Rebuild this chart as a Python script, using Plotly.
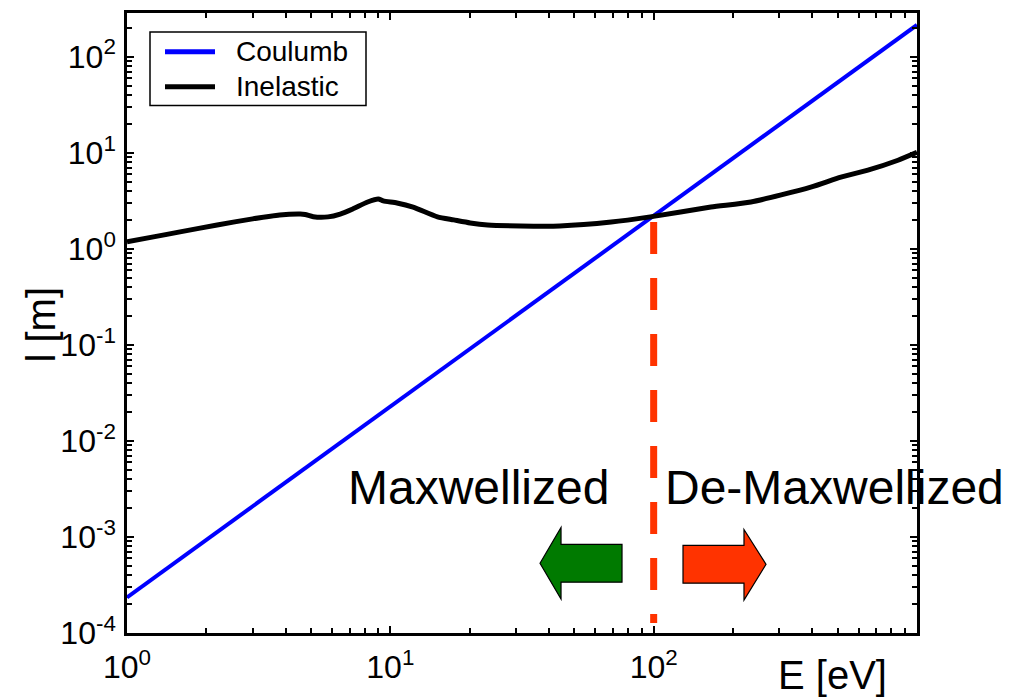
import plotly.graph_objects as go

# ---- data ----
coulomb_E = [1, 10, 100, 1000]
coulomb_I = [2.35e-4, 2.3e-2, 2.2, 214]

inel_E = [1.0, 1.26, 1.59, 2.2, 3.0, 3.8, 4.55, 4.75, 5.1, 5.8, 6.45, 7.2, 8.2, 9.0,
          9.4, 10.6, 12.2, 15.1, 17.4, 20.1, 23.4, 31.2, 44, 69, 97, 165, 234, 395,
          514, 651, 847, 1000]
inel_I = [1.18, 1.33, 1.5, 1.77, 2.05, 2.25, 2.3, 2.28, 2.16, 2.15, 2.3, 2.6, 3.07, 3.3,
          3.15, 3.0, 2.72, 2.15, 2.0, 1.86, 1.77, 1.73, 1.73, 1.9, 2.15, 2.72, 3.07, 4.38,
          5.57, 6.59, 8.36, 10.1]

threshold_E = [100, 100]
threshold_I = [1.9, 1.27e-4]

series_names = ["Coulumb", "Inelastic"]
series_colors = ["#0000FF", "#000000"]

x_tickvals = [1, 10, 100, 1000]
x_ticktext = ["10<sup>0</sup>", "10<sup>1</sup>", "10<sup>2</sup>", " "]
y_tickvals = [1e-4, 1e-3, 1e-2, 1e-1, 1, 10, 100]
y_ticktext = ["10<sup>-4</sup>", "10<sup>-3</sup>", "10<sup>-2</sup>", "10<sup>-1</sup>",
              "10<sup>0</sup>", "10<sup>1</sup>", "10<sup>2</sup>"]

x_minor = [m * 10 ** k for k in range(0, 3) for m in range(2, 10)]
y_minor = [m * 10.0 ** k for k in range(-4, 3) for m in range(2, 10)]

FONT = "Liberation Sans, Arial, Helvetica, sans-serif"

# page body has an 8px margin: work in window pixels, convert to figure pixels
OFF = 8
PL, PR, PT, PB = 127, 917, 10, 633   # plot area in window pixels
W, H = 1023 - OFF, 697 - OFF

fig = go.Figure()
fig.add_trace(go.Scatter(x=coulomb_E, y=coulomb_I, mode="lines", name=series_names[0],
                         showlegend=False,
                         line=dict(color=series_colors[0], width=4)))
fig.add_trace(go.Scatter(x=inel_E, y=inel_I, mode="lines", name=series_names[1],
                         showlegend=False,
                         line=dict(color=series_colors[1], width=5, shape="spline",
                                   smoothing=0.6)))
fig.add_trace(go.Scatter(x=threshold_E, y=threshold_I, mode="lines", showlegend=False,
                         line=dict(color="#FF3300", width=7, dash="32px,24px")))

axis_common = dict(
    showgrid=False, zeroline=False,
    showline=True, linecolor="black", linewidth=2.5, mirror="allticks",
    ticks="inside", ticklen=7, tickwidth=1.5, tickcolor="black",
    tickfont=dict(family=FONT, size=32, color="black"),
    tickmode="array",
)

fig.update_xaxes(type="log", range=[0, 3], tickvals=x_tickvals, ticktext=x_ticktext,
                 ticklabelstandoff=4,
                 minor=dict(tickvals=x_minor, ticks="inside", ticklen=5,
                            tickwidth=1.5, tickcolor="black", showgrid=False),
                 **axis_common)
fig.update_yaxes(type="log", range=[-4, 2.455], tickvals=y_tickvals, ticktext=y_ticktext,
                 ticklabelstandoff=2,
                 minor=dict(tickvals=y_minor, ticks="inside", ticklen=5,
                            tickwidth=1.5, tickcolor="black", showgrid=False),
                 **axis_common)

def px2paper(px, py):
    return (px - PL) / (PR - PL), (PB - py) / (PB - PT)

def arrow_path(points):
    pts = [px2paper(x, y) for x, y in points]
    return "M " + " L ".join(f"{x:.4f},{y:.4f}" for x, y in pts) + " Z"

green = [(540, 563), (561, 527), (561, 544), (622, 544), (622, 582), (561, 582), (561, 599)]
red = [(766, 564), (744, 529), (744, 545), (683, 545), (683, 583), (744, 583), (744, 600)]

fig.add_shape(type="path", xref="paper", yref="paper", path=arrow_path(green),
              fillcolor="#007A00", line=dict(color="black", width=1.2))
fig.add_shape(type="path", xref="paper", yref="paper", path=arrow_path(red),
              fillcolor="#FF3300", line=dict(color="black", width=1.2))

# legend box drawn by hand to match the reference placement
bx0, by0 = px2paper(150, 29)
bx1, by1 = px2paper(366, 103)
fig.add_shape(type="rect", xref="paper", yref="paper", x0=bx0, y0=by1, x1=bx1, y1=by0,
              fillcolor="white", line=dict(color="black", width=1.5), layer="above")
for i, (name, col) in enumerate(zip(series_names, series_colors)):
    rowy = 49 + 35 * i
    sx0, sy = px2paper(165, rowy)
    sx1, _ = px2paper(215, rowy)
    fig.add_shape(type="line", xref="paper", yref="paper", x0=sx0, x1=sx1, y0=sy, y1=sy,
                  line=dict(color=col, width=5), layer="above")
    tx, ty = px2paper(234, rowy)
    fig.add_annotation(text=name, x=tx, y=ty, xref="paper", yref="paper",
                       xanchor="left", yanchor="middle", showarrow=False,
                       font=dict(family=FONT, size=28, color="black"))

annos = [
    ("Maxwellized", 478, 487, 48, 0),
    ("De-Maxwellized", 834, 487, 48, 0),
    ("E [eV]", 832, 675, 40, 0),
    ("l [m]", 41, 323, 40, -90),
]
for text, ax, ay, size, ang in annos:
    xp, yp = px2paper(ax, ay)
    fig.add_annotation(text=text, x=xp, y=yp, xref="paper", yref="paper",
                       xanchor="center", yanchor="middle", showarrow=False,
                       textangle=ang,
                       font=dict(family=FONT, size=size, color="black"))

fig.update_layout(
    width=W, height=H,
    margin=dict(l=PL - OFF, r=W - (PR - OFF), t=PT - OFF, b=H - (PB - OFF)),
    paper_bgcolor="white", plot_bgcolor="white",
    font=dict(family=FONT, color="black"),
    showlegend=False,
)

fig.write_html("out.html")
